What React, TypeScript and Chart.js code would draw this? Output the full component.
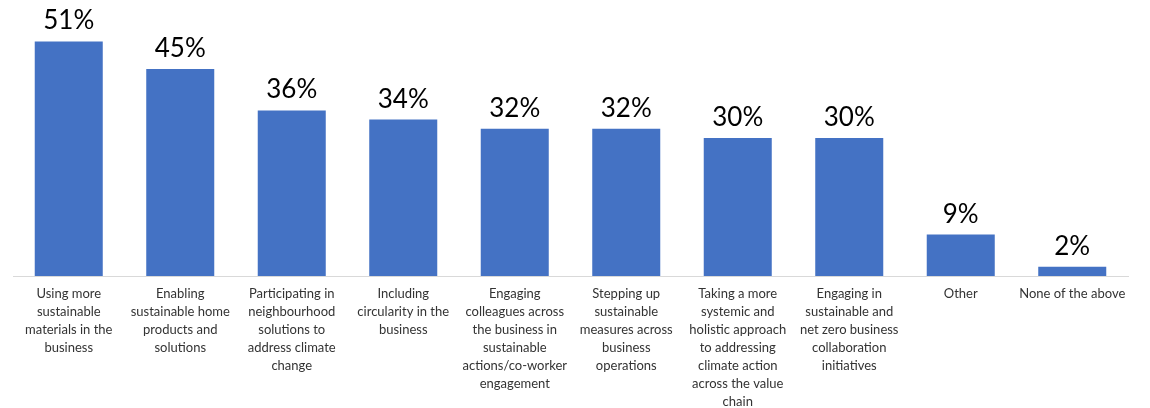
import React, { useEffect, useRef } from "react";
import { Chart, registerables } from "chart.js";

Chart.register(...registerables);

const categories: string[][] = [
  ["Using more", "sustainable", "materials in the", "business"],
  ["Enabling", "sustainable home", "products and", "solutions"],
  ["Participating in", "neighbourhood", "solutions to", "address climate", "change"],
  ["Including", "circularity in the", "business"],
  ["Engaging", "colleagues across", "the business in", "sustainable", "actions/co-worker", "engagement"],
  ["Stepping up", "sustainable", "measures across", "business", "operations"],
  ["Taking a more", "systemic and", "holistic approach", "to addressing", "climate action", "across the value", "chain"],
  ["Engaging in", "sustainable and", "net zero business", "collaboration", "initiatives"],
  ["Other"],
  ["None of the above"],
];

const values: number[] = [51, 45, 36, 34, 32, 32, 30, 30, 9, 2];

const valueLabels: string[] = ["51%", "45%", "36%", "34%", "32%", "32%", "30%", "30%", "9%", "2%"];

const barLabelPlugin = {
  id: "barValueLabels",
  afterDatasetsDraw(chart: any) {
    const ctx = chart.ctx;
    const meta = chart.getDatasetMeta(0);
    ctx.save();
    ctx.font = "26px Lato";
    ctx.fillStyle = "#000000";
    ctx.textAlign = "center";
    ctx.textBaseline = "alphabetic";
    meta.data.forEach((bar: any, i: number) => {
      ctx.fillText(valueLabels[i], bar.x, bar.y - 12);
    });
    ctx.restore();
  },
};

export default function App() {
  const ref = useRef<HTMLCanvasElement | null>(null);

  useEffect(() => {
    if (!ref.current) return;
    const chart = new Chart(ref.current, {
      type: "bar",
      data: {
        labels: categories,
        datasets: [
          {
            data: values,
            backgroundColor: "#4472C4",
            borderWidth: 0,
            barPercentage: 0.61,
            categoryPercentage: 1,
          },
        ],
      },
      options: {
        animation: false,
        responsive: false,
        devicePixelRatio: 1,
        layout: { padding: { left: 13, right: 22, top: 0, bottom: -12 } },
        plugins: {
          legend: { display: false },
          tooltip: { enabled: false },
        },
        scales: {
          x: {
            grid: { display: false, drawTicks: false },
            border: { display: true, color: "#D9D9D9", width: 1 },
            ticks: {
              autoSkip: false,
              maxRotation: 0,
              minRotation: 0,
              padding: 9,
              color: "#333333",
              font: { family: "Lato", size: 13, lineHeight: 18 / 13 },
            },
          },
          y: {
            display: false,
            min: 0,
            max: 60,
          },
        },
      },
      plugins: [barLabelPlugin],
    });
    return () => chart.destroy();
  }, []);

  return (
    <div style={{ position: "fixed", left: 0, top: 0, width: 1150, height: 408, background: "#fff" }}>
      <canvas ref={ref} width={1150} height={408} />
    </div>
  );
}
